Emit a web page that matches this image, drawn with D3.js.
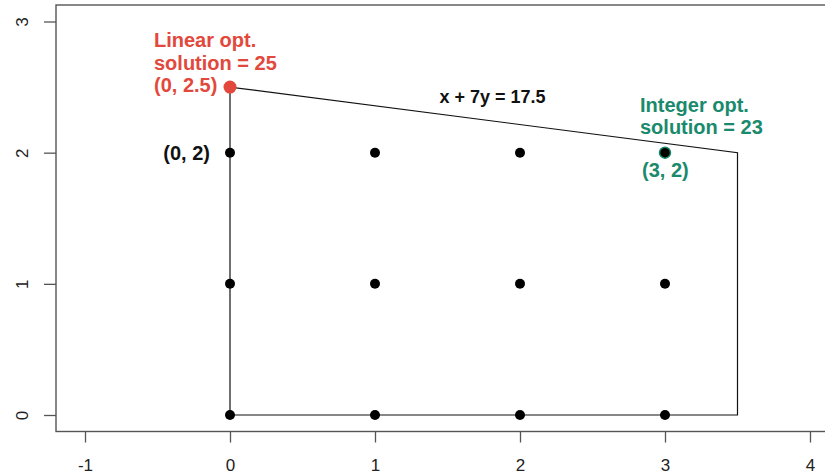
<!DOCTYPE html>
<html><head><meta charset="utf-8">
<script src="https://cdn.jsdelivr.net/npm/d3@7"></script>
<style>body{margin:0;background:#fff}svg{display:block}</style>
</head><body>
<svg id="chart" width="825" height="476"></svg>
<script>
const xTicks = [-1, 0, 1, 2, 3, 4];
const yTicks = [0, 1, 2, 3];
const feasibleRegion = [[0, 0], [0, 2.5], [3.5, 2], [3.5, 0]];
const integerPoints = [
  [0, 0], [1, 0], [2, 0], [3, 0],
  [0, 1], [1, 1], [2, 1], [3, 1],
  [0, 2], [1, 2], [2, 2]
];
const linearOpt = [0, 2.5];
const integerOpt = [3, 2];
const linearLabel = ["Linear opt.", "solution = 25", "(0, 2.5)"];
const integerLabel = ["Integer opt.", "solution = 23"];
const integerCoordLabel = "(3, 2)";
const pointLabel = "(0, 2)";
const constraintLabel = "x + 7y = 17.5";

const RED = "#e2483c", GREEN = "#198a6c";
const FONT = "'Liberation Sans', Arial, Helvetica, sans-serif";

const svg = d3.select("#chart");
const x = d3.scaleLinear().domain([-1, 4]).range([85, 810]);
const y = d3.scaleLinear().domain([0, 3]).range([415, 21.5]);

// plot box
const box = {l: 56, t: 5, r: 840, b: 431.5};
svg.append("rect").attr("x", box.l).attr("y", box.t)
  .attr("width", box.r - box.l).attr("height", box.b - box.t)
  .attr("fill", "none").attr("stroke", "#555").attr("stroke-width", 1.4);

// axes
const xAxis = svg.append("g").attr("transform", `translate(0,${box.b})`)
  .call(d3.axisBottom(x).tickValues(xTicks).tickSize(11).tickPadding(16).tickFormat(d3.format("d")));
xAxis.select(".domain").remove();
xAxis.attr("font-size", null).attr("font-family", null);
xAxis.selectAll("line").attr("stroke", "#555").attr("stroke-width", 1.3);
xAxis.selectAll("text").style("font-family", FONT).style("font-size", "17px").attr("fill", "#222")
  .text(d => d < 0 ? "-" + Math.abs(d) : d);

const yAxis = svg.append("g").attr("transform", `translate(${box.l},0)`)
  .call(d3.axisLeft(y).tickValues(yTicks).tickSize(12).tickFormat(d3.format("d")));
yAxis.select(".domain").remove();
yAxis.attr("font-size", null).attr("font-family", null);
yAxis.selectAll("line").attr("stroke", "#555").attr("stroke-width", 1.3);
yAxis.selectAll("text").style("font-family", FONT).style("font-size", "17px").attr("fill", "#222")
  .attr("text-anchor", "middle").attr("x", 0).attr("dy", 0)
  .attr("transform", "translate(-34,0) rotate(-90)")
  .attr("y", 6);

// feasible region
svg.append("path")
  .attr("d", d3.line().x(d => x(d[0])).y(d => y(d[1]))(feasibleRegion) + "Z")
  .attr("fill", "none").attr("stroke", "#111").attr("stroke-width", 1.2);

// integer points
svg.append("g").selectAll("circle").data(integerPoints).join("circle")
  .attr("cx", d => x(d[0])).attr("cy", d => y(d[1])).attr("r", 5).attr("fill", "#000");

// optimal points
svg.append("circle").attr("cx", x(linearOpt[0])).attr("cy", y(linearOpt[1])).attr("r", 6.5).attr("fill", RED);
svg.append("circle").attr("cx", x(integerOpt[0])).attr("cy", y(integerOpt[1])).attr("r", 5.5)
  .attr("fill", "#000").attr("stroke", GREEN).attr("stroke-width", 1.5);

// labels
const bold = sel => sel.attr("font-family", FONT).attr("font-weight", "bold").attr("font-size", 20);

const lt = svg.append("text").call(bold).attr("fill", RED);
linearLabel.forEach((s, i) => lt.append("tspan")
  .attr("x", x(linearOpt[0]) - 76).attr("y", y(linearOpt[1]) - 40 + i * 22.5).text(s));

svg.append("text").call(bold).attr("fill", "#111").attr("text-anchor", "end")
  .attr("x", x(0) - 20).attr("y", y(2) + 7).text(pointLabel);

svg.append("text").call(bold).attr("font-size", 18).attr("fill", "#111").attr("text-anchor", "middle")
  .attr("x", x(1.81)).attr("y", y(2.38)).text(constraintLabel);

const it = svg.append("text").call(bold).attr("fill", GREEN);
integerLabel.forEach((s, i) => it.append("tspan")
  .attr("x", x(integerOpt[0]) - 25).attr("y", y(integerOpt[1]) - 41 + i * 22).text(s));

svg.append("text").call(bold).attr("fill", GREEN)
  .attr("x", x(integerOpt[0]) - 23).attr("y", y(integerOpt[1]) + 24).text(integerCoordLabel);
</script>
</body></html>
